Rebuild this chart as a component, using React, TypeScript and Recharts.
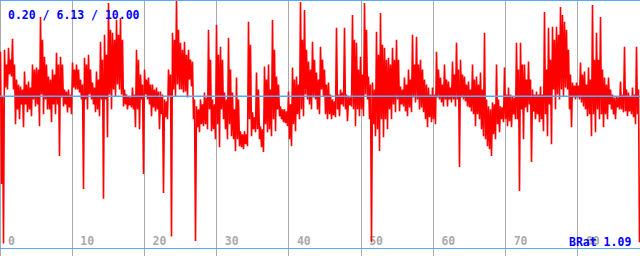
import React from "react";
import { LineChart, Line, XAxis, YAxis, ReferenceLine } from "recharts";

// Signal read per 4-px column: spike peak, spike trough, and the top/bottom of the dense core
const PEAKS: number[] = [
  7.92, 8.0, 8.08, 8.44, 6.8, 6.52, 7.12, 6.72, 7.4, 7.28,
  9.32, 7.72, 6.92, 7.2, 7.88, 7.72, 6.4, 6.4, 7.48, 7.4,
  6.8, 7.68, 7.8, 6.68, 7.12, 8.32, 8.6, 9.88, 8.68, 9.2,
  9.28, 6.4, 6.12, 6.48, 8.0, 7.0, 7.2, 6.88, 6.6, 6.48,
  6.32, 6.0, 7.2, 8.68, 10.0, 8.28, 8.32, 8.0, 7.52, 5.72,
  6.0, 6.28, 8.8, 6.0, 9.0, 8.12, 6.28, 8.48, 6.28, 6.88,
  4.72, 4.72, 9.12, 5.48, 7.08, 4.92, 7.32, 7.4, 9.2, 6.92,
  5.72, 5.6, 6.32, 7.28, 6.92, 9.92, 9.6, 7.52, 8.32, 7.08,
  8.12, 7.2, 6.68, 6.0, 8.88, 6.4, 8.88, 6.12, 9.4, 8.28,
  7.72, 9.88, 6.92, 6.68, 8.72, 9.48, 8.08, 7.68, 8.08, 8.4,
  6.52, 6.88, 7.2, 8.6, 8.52, 7.6, 6.8, 6.48, 6.48, 7.92,
  6.88, 7.4, 6.72, 7.52, 8.28, 7.6, 6.92, 6.72, 7.4, 6.92,
  7.08, 8.68, 5.72, 5.88, 7.4, 5.72, 7.28, 6.48, 6.12, 8.28,
  8.28, 7.4, 7.52, 6.4, 6.32, 6.52, 9.52, 8.88, 8.92, 8.92,
  9.72, 9.12, 8.0, 6.68, 6.68, 7.48, 7.12, 7.28, 9.8, 8.68,
  9.32, 6.88, 6.88, 6.2, 6.12, 6.72, 8.12, 6.28, 6.48, 8.12,
];

const TROUGHS: number[] = [
  0.2, 6.4, 6.92, 5.0, 5.2, 4.88, 5.48, 5.32, 5.72, 4.92,
  5.4, 5.6, 5.08, 5.4, 3.72, 5.72, 5.48, 5.4, 6.4, 6.28,
  2.4, 5.6, 6.0, 5.48, 5.32, 2.0, 4.48, 5.6, 6.12, 6.4,
  5.72, 5.6, 5.68, 4.88, 4.8, 3.0, 6.0, 5.32, 5.52, 4.8,
  2.24, 5.2, 0.48, 6.12, 6.4, 6.28, 6.08, 6.52, 0.3, 4.68,
  4.92, 4.8, 4.72, 4.4, 4.08, 5.2, 4.4, 4.52, 3.92, 4.12,
  4.0, 4.12, 4.52, 4.68, 4.4, 3.88, 4.68, 4.52, 4.72, 5.32,
  5.08, 4.92, 4.12, 4.72, 5.2, 5.32, 6.0, 5.6, 6.0, 5.4,
  6.12, 5.2, 5.2, 5.28, 5.32, 5.72, 5.12, 5.72, 4.92, 5.32,
  5.32, 6.0, 0.25, 4.52, 3.92, 4.48, 4.8, 5.2, 5.48, 5.52,
  5.72, 5.32, 5.48, 5.88, 5.6, 5.48, 4.88, 5.08, 5.0, 6.0,
  5.72, 5.72, 5.88, 5.72, 3.28, 6.0, 5.72, 5.52, 4.92, 5.2,
  4.52, 4.12, 3.72, 4.4, 4.68, 5.08, 4.92, 4.88, 5.2, 2.32,
  4.4, 5.48, 3.48, 5.2, 5.08, 4.72, 4.52, 4.2, 5.6, 6.0,
  6.12, 6.4, 4.88, 6.0, 6.0, 5.72, 5.32, 4.52, 4.68, 5.2,
  4.88, 5.2, 5.6, 5.2, 5.6, 5.48, 5.32, 5.4, 5.0, 0.25,
];

const CORE_HIGH: number[] = [
  6.12, 7.4, 7.6, 7.4, 6.6, 6.4, 6.6, 6.48, 7.2, 7.2,
  8.4, 7.4, 6.8, 7.0, 7.4, 7.4, 6.32, 6.2, 7.2, 7.2,
  6.6, 7.4, 7.2, 6.48, 6.8, 7.6, 7.8, 8.8, 8.4, 8.6,
  8.4, 6.2, 6.08, 6.2, 7.6, 6.6, 6.8, 6.6, 6.4, 6.32,
  6.2, 5.92, 7.0, 8.4, 8.8, 8.0, 7.8, 7.6, 6.0, 5.6,
  5.8, 6.08, 7.6, 5.8, 7.8, 7.6, 6.0, 7.2, 5.6, 6.0,
  4.6, 4.6, 8.2, 5.28, 6.4, 4.8, 6.8, 6.4, 8.0, 6.6,
  5.6, 5.52, 5.8, 6.8, 6.6, 8.4, 8.0, 7.2, 7.6, 6.8,
  7.6, 6.6, 6.2, 5.92, 6.2, 6.28, 6.2, 6.08, 8.4, 7.2,
  7.0, 8.8, 6.6, 6.4, 7.8, 8.2, 7.6, 7.4, 7.6, 7.6,
  6.4, 6.6, 6.8, 7.4, 7.4, 7.2, 6.6, 6.2, 6.2, 7.2,
  6.6, 6.8, 6.48, 7.0, 7.2, 7.0, 6.6, 6.4, 6.8, 6.6,
  6.4, 6.0, 5.6, 5.8, 6.0, 5.68, 6.2, 6.2, 6.08, 7.2,
  7.4, 6.8, 6.8, 6.2, 6.2, 6.2, 7.2, 7.6, 8.4, 8.6,
  9.4, 8.8, 7.0, 6.56, 6.56, 7.0, 6.6, 6.8, 7.6, 7.6,
  7.2, 6.6, 6.4, 6.08, 6.08, 6.2, 6.4, 6.12, 6.2, 6.4,
];

const CORE_LOW: number[] = [
  2.6, 6.48, 7.0, 6.4, 5.6, 5.8, 5.8, 5.6, 6.0, 5.8,
  6.2, 6.0, 5.6, 5.8, 5.8, 6.08, 5.8, 5.68, 6.48, 6.4,
  6.0, 6.0, 6.2, 5.8, 5.6, 6.0, 6.0, 6.2, 6.4, 6.6,
  6.2, 5.8, 5.76, 5.6, 5.6, 6.0, 6.2, 5.8, 5.68, 5.6,
  5.4, 5.28, 6.12, 6.4, 6.6, 6.4, 6.32, 6.8, 5.2, 4.88,
  5.0, 5.0, 5.6, 4.8, 5.0, 5.6, 4.8, 5.0, 4.4, 4.4,
  4.08, 4.2, 5.2, 4.8, 4.8, 4.08, 5.0, 4.8, 5.2, 5.6,
  5.2, 5.04, 4.4, 5.0, 5.4, 5.6, 6.2, 5.8, 6.08, 5.6,
  6.4, 5.4, 5.4, 5.36, 5.6, 5.8, 5.6, 5.76, 5.6, 5.6,
  5.6, 6.2, 5.2, 5.0, 4.8, 5.2, 5.2, 5.6, 5.8, 6.0,
  5.8, 5.52, 5.68, 6.08, 6.0, 5.68, 5.2, 5.28, 5.2, 6.08,
  5.88, 6.0, 6.0, 6.0, 6.0, 6.08, 5.92, 5.68, 5.4, 5.4,
  4.8, 4.4, 4.0, 4.6, 5.0, 5.2, 5.2, 5.12, 5.4, 5.2,
  5.6, 5.68, 5.8, 5.52, 5.4, 5.2, 5.4, 5.8, 6.4, 6.2,
  6.4, 6.48, 5.6, 6.08, 6.08, 5.88, 5.6, 5.4, 5.4, 5.6,
  5.4, 5.4, 5.8, 5.4, 5.68, 5.6, 5.52, 5.52, 5.28, 5.4,
];

const X_TICKS: number[] = [0, 10, 20, 30, 40, 50, 60, 70, 80];
const STATS_MIN = "0.20";
const STATS_MEAN = 6.13;
const STATS_MAX = "10.00";
const BRAT_LABEL = "BRat 1.09";

const X_SPAN = 88.6;
const Y_TOP = 10;
const Y_BOTTOM = 0;

const data: { t: number; v: number }[] = [];
{
  const n = PEAKS.length * 4;
  const dt = X_SPAN / n;
  PEAKS.forEach((p, i) => {
    const seq = [p, CORE_LOW[i], CORE_HIGH[i], TROUGHS[i]];
    seq.forEach((v, k) => data.push({ t: (4 * i + k + 0.5) * dt, v }));
  });
}

const MONO = "'DejaVu Sans Mono', 'Liberation Mono', monospace";
const BLUE_LINE = "#55aaff";
const GRID = "#aaaaaa";

export default function App() {
  return (
    <div style={{ position: "absolute", left: 0, top: 0, width: 640, height: 256, background: "#ffffff" }}>
      <LineChart width={640} height={256} data={data} margin={{ top: 0, right: 0, bottom: 0, left: 0 }}>
        <XAxis type="number" dataKey="t" domain={[0, X_SPAN]} hide allowDataOverflow />
        <YAxis type="number" domain={[-0.3, Y_TOP]} hide allowDataOverflow />
        {X_TICKS.map((x) => (
          <ReferenceLine
            key={"g" + x}
            x={x}
            stroke={GRID}
            strokeWidth={1}
            shapeRendering="crispEdges"
            label={(props: any) => (
              <text
                x={(props.viewBox?.x ?? 0) + 8}
                y={245}
                fill="#aaaaaa"
                fontFamily={MONO}
                fontWeight="bold"
                fontSize={11.5}
              >
                {String(x)}
              </text>
            )}
          />
        ))}
        <Line
          type="linear"
          dataKey="v"
          stroke="#ff0000"
          strokeWidth={1.6}
          strokeLinejoin="miter"
          strokeMiterlimit={1}
          dot={false}
          activeDot={false}
          isAnimationActive={false}
        />
        <ReferenceLine y={Y_TOP} stroke={BLUE_LINE} strokeWidth={2} />
        <ReferenceLine y={STATS_MEAN} stroke={BLUE_LINE} strokeWidth={1.5} />
        <ReferenceLine y={Y_BOTTOM} stroke={BLUE_LINE} strokeWidth={1} shapeRendering="crispEdges" />
      </LineChart>
      <svg width={640} height={256} style={{ position: "absolute", left: 0, top: 0, pointerEvents: "none" }}>
        <text x={8} y={19} fill="#0000ff" fontFamily={MONO} fontWeight="bold" fontSize={11.5}>
          {`${STATS_MIN} / ${STATS_MEAN.toFixed(2)} / ${STATS_MAX}`}
        </text>
        <text x={569} y={246} fill="#0000ff" fontFamily={MONO} fontWeight="bold" fontSize={11.5}>
          {BRAT_LABEL}
        </text>
      </svg>
    </div>
  );
}
